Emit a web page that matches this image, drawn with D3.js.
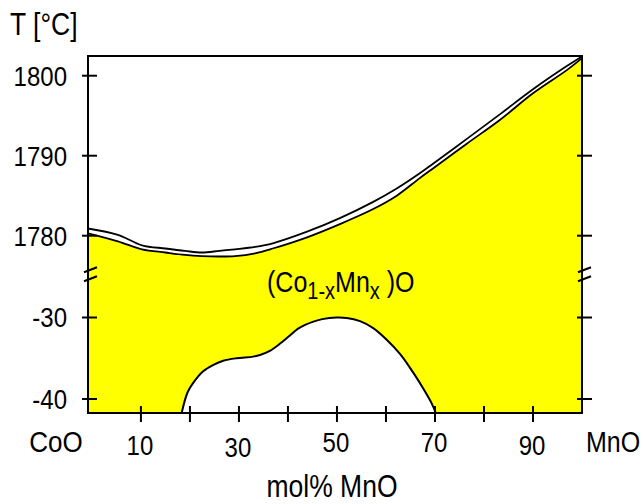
<!DOCTYPE html>
<html>
<head>
<meta charset="utf-8">
<script src="https://cdn.jsdelivr.net/npm/d3@7"></script>
<style>
    body { margin: 0; background: #fff; }
    text { font-family: "Liberation Sans", Arial, sans-serif; fill: #000; }
</style>
</head>
<body>
<script>

// liquidus and solidus of (Co,Mn)O, [mol% MnO, T in °C]
const liquidus = [[-0.8, 1780.9], [5.3, 1780.1], [10.2, 1778.8], [15, 1778.4],
    [19, 1778.1], [22.4, 1777.9], [26, 1778.1], [29.2, 1778.3], [33.3, 1778.6],
    [36.9, 1779.05], [43.9, 1780.5], [50.6, 1782.2], [57.3, 1784.2],
    [62.2, 1785.9], [66.9, 1787.8], [69.6, 1789.0], [76.5, 1792.1],
    [83.3, 1795.2], [90, 1798.3], [96.9, 1801.2], [100, 1802.4]];

const solidus = [[-0.8, 1780.3], [5.3, 1779.3], [10.2, 1778.3], [15, 1777.9],
    [19, 1777.6], [22.4, 1777.45], [26, 1777.4], [29.2, 1777.45], [33.3, 1777.8],
    [36.9, 1778.4], [43.9, 1779.8], [50.6, 1781.45], [57.3, 1783.3],
    [62.2, 1785.0], [66.9, 1787.2], [69.6, 1788.4], [76.5, 1791.5],
    [83.3, 1794.5], [90, 1797.8], [96.9, 1800.7], [100, 1802.2]];

// miscibility gap at low temperature
const gap = [[18.3, -41.75], [19.5, -39.2], [20.7, -38.0], [22.7, -36.6],
    [24.8, -35.8], [26.8, -35.3], [29.5, -35.0], [32.9, -34.8], [34.3, -34.6],
    [36.3, -34.1], [38.4, -33.2], [40.2, -32.3], [42, -31.4], [43.5, -30.9],
    [45.2, -30.5], [47, -30.2], [49.9, -30.0], [52, -30.05], [54.7, -30.45],
    [57.4, -31.3], [60.1, -32.7], [62.9, -34.5], [65.6, -36.8], [68.0, -39.1],
    [69.3, -40.5], [70.2, -41.75]];

const xTicks = [10, 20, 30, 40, 50, 60, 70, 80, 90];
const xTickLabels = [10, 30, 50, 70, 90];
const yTicksTop = [1780, 1790, 1800];
const yTicksBottom = [-40, -30];

window.onload = function() {
    drawChart();
};


/** Draws the broken-axis phase diagram. */
function drawChart() {

    const width = 643;
    const height = 504;
    const left = 88, right = 582, top = 56, bottom = 413;
    const breakY = 274.5;
    const stretch = 1.15;

    let svg = d3.select("body")
                .append("svg")
                .attr("width", width)
                .attr("height", height);

    let x = d3.scaleLinear()
              .domain([-0.8, 100])
              .range([left, right]);

    // two temperature segments with a break in between
    let yTop = d3.scaleLinear()
                 .domain([1780, 1800])
                 .range([235.7, 75.7]);

    let yBot = d3.scaleLinear()
                 .domain([-40, -30])
                 .range([399, 317.5]);

    const curve = d3.curveCatmullRom.alpha(0.5);

    /** Adds a slightly tall text like in the original figure. */
    function addText(str, tx, ty, size, anchor) {
        return svg.append("text")
                  .attr("transform", "translate(" + tx + "," + ty + ") scale(1," + stretch + ")")
                  .attr("text-anchor", anchor)
                  .style("font-size", size + "px")
                  .text(str);
    }

    // yellow single-phase field
    let areaTop = d3.area()
                    .x(function(d) { return x(d[0]); })
                    .y0(breakY + 1)
                    .y1(function(d) { return yTop(d[1]); })
                    .curve(curve);

    svg.append("path")
       .attr("d", areaTop(solidus))
       .attr("fill", "#ffff00");

    svg.append("rect")
       .attr("x", left)
       .attr("y", breakY)
       .attr("width", right - left)
       .attr("height", bottom - breakY)
       .attr("fill", "#ffff00");

    // white two-phase region under the gap
    let areaGap = d3.area()
                    .x(function(d) { return x(d[0]); })
                    .y0(bottom)
                    .y1(function(d) { return yBot(d[1]); })
                    .curve(curve);

    svg.append("path")
       .attr("d", areaGap(gap))
       .attr("fill", "#fff");

    // curves
    let lineTop = d3.line()
                    .x(function(d) { return x(d[0]); })
                    .y(function(d) { return yTop(d[1]); })
                    .curve(curve);

    let lineBot = d3.line()
                    .x(function(d) { return x(d[0]); })
                    .y(function(d) { return yBot(d[1]); })
                    .curve(curve);

    [liquidus, solidus].forEach(function(data) {
        svg.append("path")
           .attr("d", lineTop(data))
           .attr("fill", "none")
           .attr("stroke", "#000")
           .attr("stroke-width", 1.8);
    });

    svg.append("path")
       .attr("d", lineBot(gap))
       .attr("fill", "none")
       .attr("stroke", "#000")
       .attr("stroke-width", 2);

    // frame
    svg.append("rect")
       .attr("x", left)
       .attr("y", top)
       .attr("width", right - left)
       .attr("height", bottom - top)
       .attr("fill", "none")
       .attr("stroke", "#000")
       .attr("stroke-width", 2);

    // y ticks on both sides
    let yPos = yTicksTop.map(function(t) { return {t: t, y: yTop(t)}; })
               .concat(yTicksBottom.map(function(t) { return {t: t, y: yBot(t)}; }));

    yPos.forEach(function(d) {
        svg.append("line")
           .attr("x1", left - 6).attr("x2", left + 9)
           .attr("y1", d.y).attr("y2", d.y)
           .attr("stroke", "#000").attr("stroke-width", 2);
        svg.append("line")
           .attr("x1", right - 5).attr("x2", right + 10)
           .attr("y1", d.y).attr("y2", d.y)
           .attr("stroke", "#000").attr("stroke-width", 2);
        addText(d.t, 67, d.y + 9.8, 24, "end");
    });

    // axis break marks
    [left + 2, right + 2].forEach(function(cx) {
        [-4.5, 4.5].forEach(function(dy) {
            svg.append("line")
               .attr("x1", cx - 6).attr("y1", breakY + dy + 2.3)
               .attr("x2", cx + 7).attr("y2", breakY + dy - 2.8)
               .attr("stroke", "#000").attr("stroke-width", 2);
        });
    });

    // x ticks
    svg.selectAll(".xtick")
       .data(xTicks)
       .enter().append("line")
       .attr("class", "xtick")
       .attr("x1", function(d) { return x(d); })
       .attr("x2", function(d) { return x(d); })
       .attr("y1", bottom - 7)
       .attr("y2", bottom + 9)
       .attr("stroke", "#000")
       .attr("stroke-width", 2);

    // x tick labels, slightly staggered like the original
    const drop = {10: 3, 30: 5, 50: 0, 70: 0, 90: 3};
    xTickLabels.forEach(function(d) {
        addText(d, x(d) - 1, 452 + drop[d], 24, "middle");
    });

    addText("CoO", 56, 452, 26, "middle");
    addText("MnO", 613, 452, 25, "middle");

    // axis titles
    addText("mol% MnO", 332, 497, 26.5, "middle");
    addText("T [°C]", 10, 35, 26.5, "start");

    // phase label
    let label = svg.append("text")
                   .attr("transform", "translate(267,292) scale(1," + stretch + ")")
                   .style("font-size", "25px");
    label.append("tspan").text("(Co");
    label.append("tspan").attr("dy", 6).style("font-size", "20px").text("1-x");
    label.append("tspan").attr("dy", -6).text("Mn");
    label.append("tspan").attr("dy", 6).style("font-size", "20px").text("x");
    label.append("tspan").attr("dy", -6).text(" )O");
}
</script>
</body>
</html>
